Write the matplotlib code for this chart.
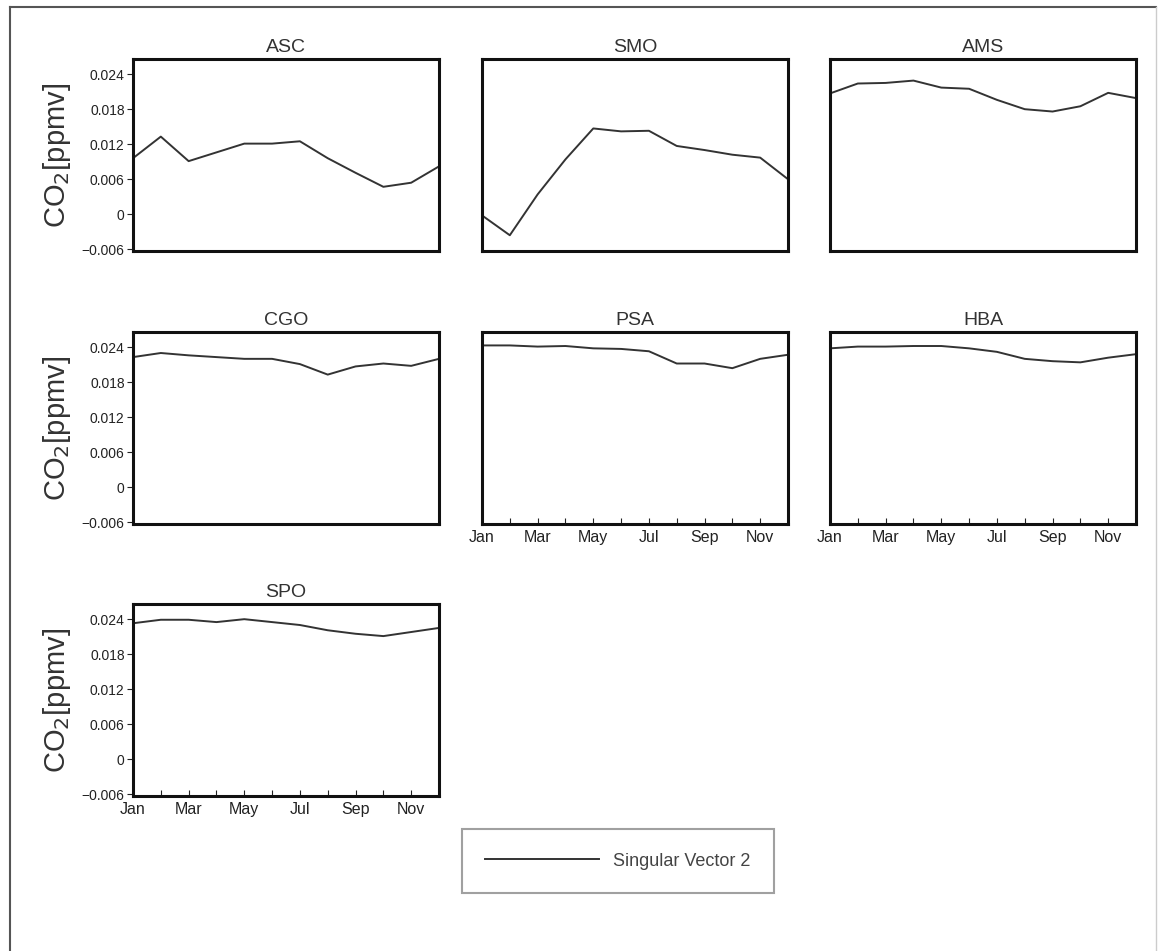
import matplotlib
matplotlib.use("Agg")
import matplotlib.pyplot as plt
from matplotlib.lines import Line2D
from matplotlib.ticker import FixedLocator, FixedFormatter

plt.rcParams['font.family'] = ['Liberation Sans', 'DejaVu Sans']

months = list(range(1, 13))
month_tick_labels = ['Jan', '', 'Mar', '', 'May', '', 'Jul', '', 'Sep', '', 'Nov', '']

y_ticks = [-0.006, 0, 0.006, 0.012, 0.018, 0.024]
y_tick_labels = ['\u22120.006', '0', '0.006', '0.012', '0.018', '0.024']

stations = ['ASC', 'SMO', 'AMS', 'CGO', 'PSA', 'HBA', 'SPO']

asc = [0.0096, 0.0133, 0.0091, 0.0106, 0.0121, 0.0121, 0.0125, 0.0096, 0.0071, 0.0047, 0.0054, 0.0082]
smo = [-0.0002, -0.0036, 0.0034, 0.0094, 0.0147, 0.0142, 0.0143, 0.0117, 0.0110, 0.0102, 0.0097, 0.0060]
ams = [0.0207, 0.0224, 0.0225, 0.0229, 0.0217, 0.0215, 0.0196, 0.0180, 0.0176, 0.0185, 0.0208, 0.0199]
cgo = [0.0223, 0.0230, 0.0226, 0.0223, 0.0220, 0.0220, 0.0211, 0.0193, 0.0207, 0.0212, 0.0208, 0.0220]
psa = [0.0243, 0.0243, 0.0241, 0.0242, 0.0238, 0.0237, 0.0233, 0.0212, 0.0212, 0.0204, 0.0220, 0.0227]
hba = [0.0238, 0.0241, 0.0241, 0.0242, 0.0242, 0.0238, 0.0232, 0.0220, 0.0216, 0.0214, 0.0222, 0.0228]
spo = [0.0233, 0.0239, 0.0239, 0.0235, 0.0240, 0.0235, 0.0230, 0.0221, 0.0215, 0.0211, 0.0218, 0.0225]

series = [asc, smo, ams, cgo, psa, hba, spo]

W, H = 1160, 951
fig = plt.figure(figsize=(W / 100, H / 100), dpi=100)

# frame of the scanned page
fig.add_artist(Line2D([10 / W, 10 / W], [0, 1 - 7 / H], transform=fig.transFigure, color='#555555', lw=1.5))
fig.add_artist(Line2D([10 / W, 1156 / W], [1 - 7 / H, 1 - 7 / H], transform=fig.transFigure, color='#555555', lw=1.5))
fig.add_artist(Line2D([1156 / W, 1156 / W], [0, 1 - 7 / H], transform=fig.transFigure, color='#cccccc', lw=1.0))

col_left = [133, 482, 830]
row_top = [59, 332, 604]
ax_w, ax_h = 306, 192

# (row, col, show y labels, show x labels)
layout = [(0, 0, True, False), (0, 1, False, False), (0, 2, False, False),
          (1, 0, True, False), (1, 1, False, True), (1, 2, False, True),
          (2, 0, True, True)]

line_handle = None
for name, vals, (r, c, ylab, xlab) in zip(stations, series, layout):
    left = col_left[c] / W
    bottom = 1 - (row_top[r] + ax_h) / H
    ax = fig.add_axes([left, bottom, ax_w / W, ax_h / H])
    line_handle, = ax.plot(months, vals, color='#333333', lw=1.4)
    ax.set_xlim(1, 12)
    ax.set_ylim(-0.0063, 0.0266)
    for sp in ax.spines.values():
        sp.set_linewidth(2.2)
        sp.set_color('#111111')
    ax.set_title(name, fontsize=14, color='#333333', pad=5)

    if ylab:
        ax.yaxis.set_major_locator(FixedLocator(y_ticks))
        ax.yaxis.set_major_formatter(FixedFormatter(y_tick_labels))
        ax.tick_params(axis='y', direction='out', length=4, width=0.8,
                       labelsize=10, colors='#222222', pad=2)
        ax.set_ylabel(r'CO$_2$[ppmv]', fontsize=21, color='#333333', labelpad=6)
    else:
        ax.set_yticks([])

    if xlab:
        ax.xaxis.set_major_locator(FixedLocator(months))
        ax.xaxis.set_major_formatter(FixedFormatter(month_tick_labels))
        ax.tick_params(axis='x', direction='in', length=4, width=0.8,
                       labelsize=11.5, colors='#222222', pad=4)
    else:
        ax.set_xticks([])

leg = fig.legend(handles=[line_handle], labels=['Singular Vector 2'],
                 loc='center', bbox_to_anchor=(618 / W, 1 - 861 / H),
                 fontsize=13, handlelength=6.3, handletextpad=0.8,
                 borderpad=1.3, fancybox=False, frameon=True)
leg.get_frame().set_edgecolor('#888888')
leg.get_frame().set_linewidth(1.5)
for t in leg.get_texts():
    t.set_color('#444444')

fig.savefig('out.png', dpi=100)
